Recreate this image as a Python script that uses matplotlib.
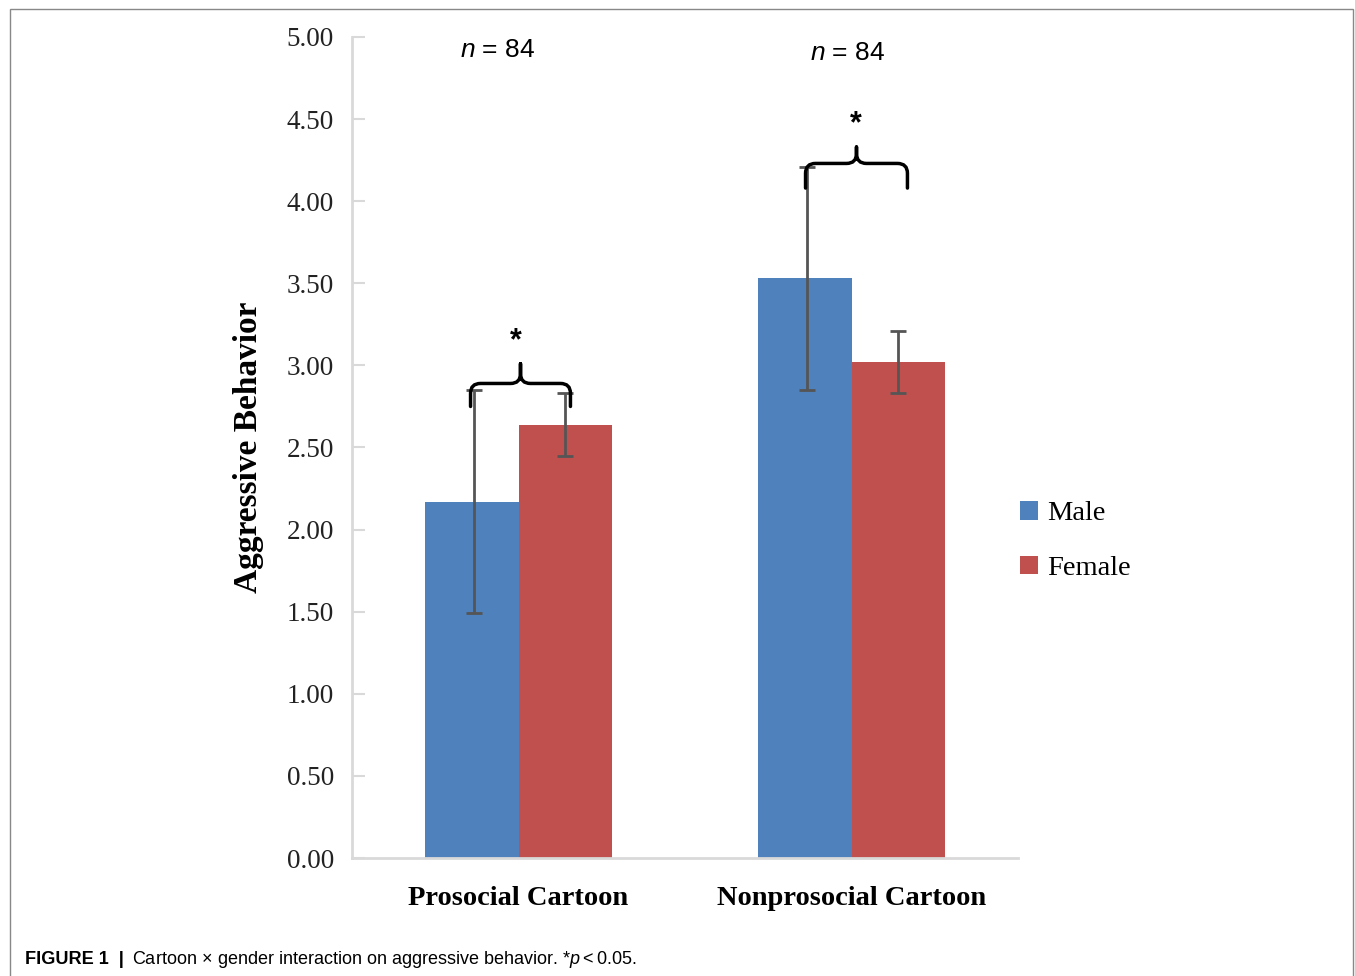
import matplotlib
matplotlib.use("Agg")
import matplotlib.pyplot as plt
from matplotlib.path import Path
from matplotlib.patches import PathPatch, Rectangle
import numpy as np

categories = ["Prosocial Cartoon", "Nonprosocial Cartoon"]
male_means = [2.17, 3.53]
female_means = [2.64, 3.02]
male_err = [0.68, 0.68]
female_err = [0.19, 0.19]
yticks = [0.0, 0.5, 1.0, 1.5, 2.0, 2.5, 3.0, 3.5, 4.0, 4.5, 5.0]
n_labels = ["84", "84"]

blue = "#4f81bd"
red = "#c0504d"
serif = "Liberation Serif"
sans = "Liberation Sans"

plt.rcParams["mathtext.fontset"] = "custom"
plt.rcParams["mathtext.rm"] = "Liberation Sans"
plt.rcParams["mathtext.it"] = "Liberation Sans:italic"

fig = plt.figure(figsize=(13.55, 9.76), dpi=100)
ax = fig.add_axes([352/1355, 1-858/976, (1018-352)/1355, (858-37)/976])

x = np.arange(len(categories))
w = 0.282
ax.bar(x - w/2, male_means, w, color=blue, label="Male", zorder=2)
ax.bar(x + w/2, female_means, w, color=red, label="Female", zorder=2)
ax.errorbar(x - w/2 + 0.006, male_means, yerr=male_err, fmt="none", ecolor="#555555",
            elinewidth=2, capsize=6, capthick=2, zorder=3)
ax.errorbar(x + w/2, female_means, yerr=female_err, fmt="none", ecolor="#555555",
            elinewidth=2, capsize=6, capthick=2, zorder=3)

ax.set_xlim(-0.5, 1.5)
ax.set_ylim(0, 5)
ax.set_yticks(yticks)
ax.set_yticklabels([f"{v:.2f}" for v in yticks], fontfamily=serif, fontsize=19.5, color="#222222")
ax.set_xticks(x)
ax.set_xticklabels(categories, fontfamily=serif, fontsize=20.5, fontweight="bold")
ax.tick_params(axis="x", length=0, pad=20)
ax.tick_params(axis="y", direction="in", length=9, color="#d9d9d9", width=1.5, pad=13)
for s in ["top", "right"]:
    ax.spines[s].set_visible(False)
for s in ["left", "bottom"]:
    ax.spines[s].set_color("#d9d9d9")
    ax.spines[s].set_linewidth(2)
ax.set_ylabel("Aggressive Behavior", fontfamily=serif, fontsize=24, fontweight="bold", labelpad=16)

# n labels
n_pos = [(-0.063, 4.92), (0.988, 4.905)]
for (px, py), t in zip(n_pos, n_labels):
    ax.text(px, py, r"$\it{n}$ = " + t, ha="center", va="center",
            fontfamily=sans, fontsize=19)

# braces
def brace(x0, x1, ybar, ytip, yend):
    xm = (x0 + x1) / 2
    dx, dy = 0.03, 0.06
    verts = [(x0, yend), (x0, ybar - dy), (x0, ybar), (x0 + dx, ybar),
             (xm - dx, ybar), (xm, ybar), (xm, ybar + dy), (xm, ytip),
             (xm, ytip), (xm, ybar + dy), (xm, ybar), (xm + dx, ybar),
             (x1 - dx, ybar), (x1, ybar), (x1, ybar - dy), (x1, yend)]
    codes = [Path.MOVETO, Path.LINETO, Path.CURVE3, Path.CURVE3,
             Path.LINETO, Path.CURVE3, Path.CURVE3, Path.LINETO,
             Path.MOVETO, Path.LINETO, Path.CURVE3, Path.CURVE3,
             Path.LINETO, Path.CURVE3, Path.CURVE3, Path.LINETO]
    return PathPatch(Path(verts, codes), fill=False, edgecolor="black", lw=2.5,
                     capstyle="round", joinstyle="round", zorder=4)

ax.add_patch(brace(-0.144, 0.156, 2.89, 3.01, 2.75))
ax.add_patch(brace(0.862, 1.168, 4.23, 4.33, 4.08))
ax.text(-0.009, 3.15, "*", ha="center", va="center", fontfamily=sans, fontsize=22, fontweight="bold")
ax.text(1.012, 4.47, "*", ha="center", va="center", fontfamily=sans, fontsize=22, fontweight="bold")

# legend
leg = fig.legend(loc="center left", bbox_to_anchor=(1020/1355, 1-541/976), frameon=False,
                 prop={"family": serif, "size": 20.5}, handlelength=0.62, handleheight=0.62,
                 handletextpad=0.35, labelspacing=1.02, borderpad=0, borderaxespad=0)

# border
fig.patches.append(Rectangle((10/1355, -0.01), (1353-10)/1355, 1.01 - 9/976,
                             transform=fig.transFigure, fill=False,
                             edgecolor="#888888", lw=1))

# caption
fig.canvas.draw()
r = fig.canvas.get_renderer()
cy = 1 - 959/976
t1 = fig.text(25/1355, cy, "FIGURE 1  |", fontfamily=sans, fontsize=13.1, fontweight="bold", va="center")
bb = t1.get_window_extent(renderer=r)
fig.text((bb.x1 + 8)/1355, cy,
         r"Cartoon$\,\times\,$gender interaction on aggressive behavior. *$\it{p}$$<$0.05.",
         fontfamily=sans, fontsize=13, va="center")

fig.savefig("out.png", dpi=100)
